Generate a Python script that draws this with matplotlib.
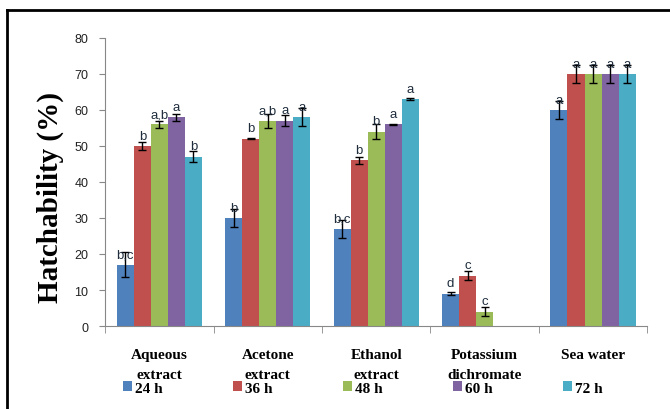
import matplotlib
matplotlib.use("Agg")
import matplotlib.pyplot as plt
from matplotlib.lines import Line2D
from matplotlib.patches import Patch
import numpy as np

# --- Data ---
categories = ["Aqueous\nextract", "Acetone\nextract", "Ethanol\nextract",
              "Potassium\ndichromate", "Sea water"]
series = ["24 h", "36 h", "48 h", "60 h", "72 h"]
colors = ["#4F81BD", "#C0504D", "#9BBB59", "#8064A2", "#4BACC6"]

h24 = [17, 30, 27, 9, 60]
h36 = [50, 52, 46, 14, 70]
h48 = [56, 57, 54, 4, 70]
h60 = [58, 57, 56, 0, 70]
h72 = [47, 58, 63, 0, 70]

e24 = [3.5, 2.5, 2.5, 0.5, 2.5]
e36 = [1.0, 0.2, 1.0, 1.2, 2.5]
e48 = [1.0, 2.0, 2.0, 1.2, 2.5]
e60 = [1.0, 1.5, 0.2, 0.0, 2.5]
e72 = [1.5, 2.5, 0.3, 0.0, 2.5]

l24 = ["b,c", "b", "b,c", "d", "a"]
l36 = ["b", "b", "b", "c", "a"]
l48 = ["a,b", "a,b", "b", "c", "a"]
l60 = ["a", "a", "a", "", "a"]
l72 = ["b", "a", "a", "", "a"]

values = [h24, h36, h48, h60, h72]
errors = [e24, e36, e48, e60, e72]
letters = [l24, l36, l48, l60, l72]

# --- Plot ---
fig = plt.figure(figsize=(6.7, 4.1), dpi=100)
ax = fig.add_axes([0.157, 0.2024, 0.809, 0.7026])

x = np.arange(len(categories))
width = 0.157
for i, (vals, errs, labs) in enumerate(zip(values, errors, letters)):
    pos = x + (i - 2) * width
    show = [v > 0 for v in vals]
    ax.bar(pos, vals, width, color=colors[i], edgecolor="none", zorder=2)
    ax.errorbar(pos[show], np.array(vals)[show], yerr=np.array(errs)[show],
                fmt="none", ecolor="black", elinewidth=1.0, capsize=3,
                capthick=1.0, zorder=3)
    for p, v, lab in zip(pos, vals, labs):
        if lab:
            ax.text(p, v + 1.2, lab, ha="center", va="bottom", fontsize=9.5,
                    color="#1F2D3D", family="Liberation Sans", zorder=4)

ax.set_xlim(-0.5, len(categories) - 0.5)
ax.set_ylim(0, 80)
ax.set_yticks(range(0, 81, 10))
ax.tick_params(axis="y", length=4, color="#888888", labelsize=9,
               labelcolor="#222222", pad=8)
for lab in ax.get_yticklabels():
    lab.set_family("Liberation Sans")

ax.set_xticks(x)
ax.set_xticklabels(categories, fontsize=11, fontweight="bold",
                   family="Liberation Serif", linespacing=1.65)
ax.tick_params(axis="x", length=0, pad=16)
ax.set_xticks(np.arange(-0.5, len(categories)), minor=True)
ax.tick_params(axis="x", which="minor", length=5, color="#888888")

for side in ["top", "right"]:
    ax.spines[side].set_visible(False)
for side in ["left", "bottom"]:
    ax.spines[side].set_color("#888888")

ax.set_ylabel("Hatchability (%)", fontsize=21, fontweight="bold",
              family="Liberation Serif")
ax.yaxis.set_label_coords(-0.076, 0.45)

handles = [Patch(facecolor=c, edgecolor="none") for c in colors]
leg = fig.legend(handles, series, loc="lower left", ncol=5,
                 bbox_to_anchor=(0.183, 0.035),
                 frameon=False, handlelength=0.6, handleheight=0.6,
                 handletextpad=0.2, borderaxespad=0, borderpad=0,
                 columnspacing=4.6,
                 prop={"family": "Liberation Serif", "weight": "bold",
                       "size": 11})

# outer frame (top and left only, as in the reference)
fig.add_artist(Line2D([0.011, 1.0], [0.974, 0.974], color="black", lw=2,
                      transform=fig.transFigure))
fig.add_artist(Line2D([0.011, 0.011], [0.0, 0.974], color="black", lw=2,
                      transform=fig.transFigure))

fig.savefig("out.png", dpi=100)
